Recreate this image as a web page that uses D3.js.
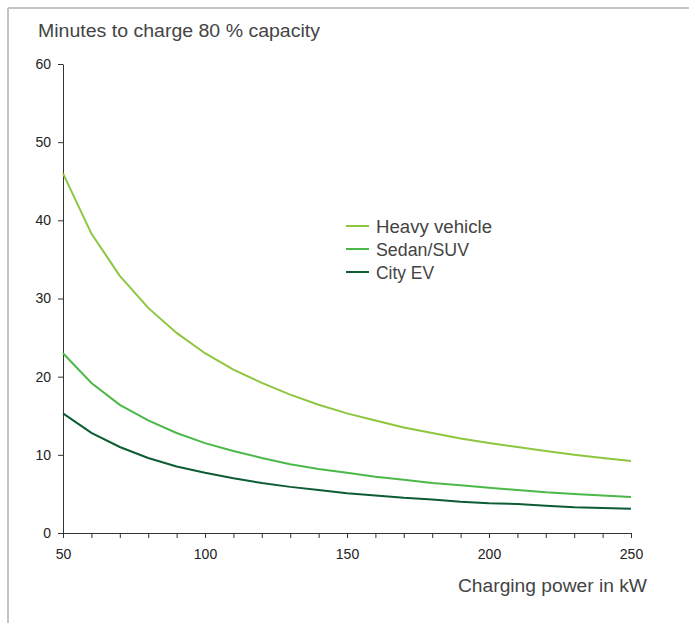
<!DOCTYPE html>
<html>
<head>
<meta charset="utf-8">
<script src="https://cdn.jsdelivr.net/npm/d3@7"></script>
<style>
  body { margin: 0; background: #fff; }
  text { font-family: "Liberation Sans", Arial, sans-serif; }
</style>
</head>
<body>
<div id="chart"></div>
<script>
// data (minutes to 80 % vs charging power)
const power = [50, 60, 70, 80, 90, 100, 110, 120, 130, 140, 150, 160, 170, 180, 190, 200, 210, 220, 230, 240, 250];
const heavy = [46.0, 38.3, 32.9, 28.8, 25.6, 23.0, 20.9, 19.2, 17.7, 16.4, 15.3, 14.4, 13.5, 12.8, 12.1, 11.5, 11.0, 10.5, 10.0, 9.6, 9.2];
const sedan = [23.0, 19.2, 16.4, 14.4, 12.8, 11.5, 10.5, 9.6, 8.8, 8.2, 7.7, 7.2, 6.8, 6.4, 6.1, 5.8, 5.5, 5.2, 5.0, 4.8, 4.6];
const city = [15.3, 12.8, 11.0, 9.6, 8.5, 7.7, 7.0, 6.4, 5.9, 5.5, 5.1, 4.8, 4.5, 4.3, 4.0, 3.8, 3.7, 3.5, 3.3, 3.2, 3.1];
const seriesNames = ["Heavy vehicle", "Sedan/SUV", "City EV"];
const seriesColors = ["#8dc63f", "#4cb848", "#0d5c34"];
const yTicks = [0, 10, 20, 30, 40, 50, 60];
const xLabels = [50, 100, 150, 200, 250];

const W = 689, H = 623;
const svg = d3.select("#chart").append("svg")
    .attr("width", W).attr("height", H);

// frame (top + left grey rule)
svg.append("line").attr("x1", 8).attr("y1", 8).attr("x2", W).attr("y2", 8)
    .attr("stroke", "#c4c4c4").attr("stroke-width", 2);
svg.append("line").attr("x1", 8).attr("y1", 8).attr("x2", 8).attr("y2", H)
    .attr("stroke", "#c4c4c4").attr("stroke-width", 2);

const x = d3.scaleLinear().domain([50, 250]).range([63, 631]);
const y = d3.scaleLinear().domain([0, 60]).range([533, 64]);

// y axis
const yAxis = svg.append("g").attr("transform", "translate(63,0)")
    .call(d3.axisLeft(y).tickValues(yTicks).tickSize(5).tickSizeOuter(0).tickPadding(7));
yAxis.selectAll("text").style("font-size", "14px").attr("fill", "#222");

// x axis, minor ticks every 10, labels every 50
const xAxis = svg.append("g").attr("transform", "translate(0,533)")
    .call(d3.axisBottom(x).tickValues(power).tickSize(5).tickSizeOuter(0).tickPadding(11)
        .tickFormat(d => xLabels.includes(d) ? d : ""));
xAxis.selectAll("text").style("font-size", "14px").attr("fill", "#222");
svg.selectAll(".domain, .tick line").attr("stroke", "#333");

// titles
svg.append("text").attr("x", 38).attr("y", 37)
    .style("font-size", "17.5px").attr("fill", "#444")
    .attr("textLength", 282).attr("lengthAdjust", "spacingAndGlyphs")
    .text("Minutes to charge 80 % capacity");
svg.append("text").attr("x", 458).attr("y", 592)
    .style("font-size", "18px").attr("fill", "#444")
    .attr("textLength", 189).attr("lengthAdjust", "spacingAndGlyphs")
    .text("Charging power in kW");

// lines
const line = d3.line().x((d, i) => x(power[i])).y(d => y(d));
const allSeries = [heavy, sedan, city];
svg.selectAll("path.series")
    .data(allSeries)
    .join("path")
    .attr("class", "series")
    .attr("d", line)
    .attr("fill", "none")
    .attr("stroke", (_, i) => seriesColors[i])
    .attr("stroke-width", 2);

// legend
const legWidths = [116, 93, 58];
const leg = svg.selectAll("g.leg")
    .data(seriesNames)
    .join("g")
    .attr("class", "leg")
    .attr("transform", (_, i) => `translate(346,${226 + i * 23})`);
leg.append("line").attr("x1", 0).attr("x2", 23).attr("y1", 0).attr("y2", 0)
    .attr("stroke", (_, i) => seriesColors[i]).attr("stroke-width", 2);
leg.append("text").attr("x", 30).attr("y", 6.5)
    .style("font-size", "18px").attr("fill", "#444")
    .attr("textLength", (_, i) => legWidths[i]).attr("lengthAdjust", "spacingAndGlyphs")
    .text(d => d);
</script>
</body>
</html>
